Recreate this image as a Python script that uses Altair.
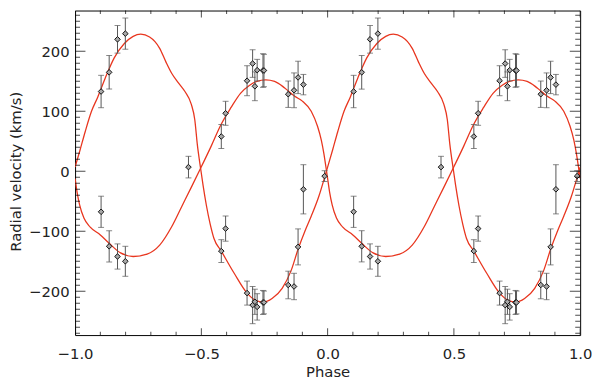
import altair as alt
import pandas as pd

# ---- model curves (one orbital cycle, phase 0..1) ----
CURVE_A_PHASE = [0.0, 0.02, 0.04, 0.065, 0.09, 0.103, 0.12, 0.155, 0.195, 0.23, 0.26,
                 0.295, 0.335, 0.36, 0.383, 0.41, 0.435, 0.46, 0.474, 0.484, 0.497,
                 0.507, 0.52, 0.535, 0.55, 0.579, 0.63, 0.681, 0.715, 0.745, 0.78,
                 0.82, 0.855, 0.883, 0.91, 0.935, 0.965, 0.993, 1.0]
CURVE_A_RV = [7, 36, 66, 100, 124, 138, 156, 189, 213, 225, 228.5,
              224, 205, 182, 163, 147, 133, 112, 86, 45, 5,
              -24, -57, -88, -112, -133, -170, -203, -215, -218, -212,
              -195, -166, -130, -100, -75, -42, -3, 7]

CURVE_B_PHASE = [0.0, 0.008, 0.018, 0.035, 0.06, 0.10, 0.135, 0.18, 0.23, 0.285,
                 0.335, 0.383, 0.422, 0.461, 0.497, 0.539, 0.578, 0.617, 0.655, 0.69,
                 0.72, 0.755, 0.79, 0.83, 0.87, 0.90, 0.935, 0.96, 0.975, 0.985,
                 0.993, 1.0]
CURVE_B_RV = [-12, -35, -56, -78, -93, -106, -120, -136, -142, -138,
              -123, -92, -59, -26, 5, 42, 78, 106, 130, 143,
              150, 152.5, 150, 139, 125, 117, 100, 75, 52, 30,
              8, -12]

# ---- measured radial velocities (phase 0..1) ----
OBS_PHASE = [0.103, 0.103, 0.135, 0.135, 0.168, 0.168, 0.199, 0.199, 0.449,
             0.579, 0.579, 0.596, 0.596, 0.681, 0.681, 0.703, 0.703, 0.712, 0.712,
             0.721, 0.721, 0.744, 0.744, 0.748, 0.748, 0.844, 0.844, 0.867, 0.867,
             0.883, 0.883, 0.904, 0.904, 0.988]
OBS_RV = [133, -67.5, 165, -125, 220, -142, 229.5, -150, 7,
          58, -133, 96.7, -95.5, 151, -203, 179.6, -223, 141.7, -217.5,
          168.6, -226, 168, -218.6, 168, -218.6, 128.5, -189.5, 135, -192,
          156.5, -126, 144.5, -30, -8]
OBS_ERR = [27, 26, 28, 26, 23, 21, 26, 25, 18,
           20, 19, 20, 21, 25, 20, 23, 31, 24, 21,
           18, 22, 28, 20, 27, 19, 22, 23, 29, 22,
           27, 30, 17, 41, 9]

# ---- axes ----
X_RANGE = [-1.0, 1.0]
Y_RANGE = [-273, 268]
X_MAJOR = [-1.0, -0.5, 0.0, 0.5, 1.0]
X_MINOR = [-0.9, -0.8, -0.7, -0.6, -0.4, -0.3, -0.2, -0.1,
           0.1, 0.2, 0.3, 0.4, 0.6, 0.7, 0.8, 0.9]
Y_MAJOR = [-200, -100, 0, 100, 200]
Y_MINOR = [v for v in range(-270, 270, 10) if v % 100 != 0]

FONT = "DejaVu Sans"
RED = "#e8361f"
INK = "#222222"

# two cycles: phase-1 and phase (drop duplicate junction point in first cycle)
def curve_rows(phases, values, name):
    rows = []
    for p, v in zip(phases, values):
        if p < 1.0:
            rows.append({"phase": p - 1.0, "rv": v, "series": name})
    for p, v in zip(phases, values):
        rows.append({"phase": p, "rv": v, "series": name})
    return rows

curves = pd.DataFrame(curve_rows(CURVE_A_PHASE, CURVE_A_RV, "A")
                      + curve_rows(CURVE_B_PHASE, CURVE_B_RV, "B"))

obs_rows = []
for shift in (-1.0, 0.0):
    for p, v, e in zip(OBS_PHASE, OBS_RV, OBS_ERR):
        obs_rows.append({"phase": p + shift, "rv": v, "lo": v - e, "hi": v + e})
obs = pd.DataFrame(obs_rows)

xscale = alt.Scale(domain=X_RANGE, nice=False, zero=False)
yscale = alt.Scale(domain=Y_RANGE, nice=False, zero=False)
xaxis = alt.Axis(values=X_MAJOR, format=".1f", title="Phase", labelFlush=False,
                 labelPadding=12, titleY=42, titleBaseline="alphabetic")
yaxis = alt.Axis(values=Y_MAJOR, format="d", title="Radial velocity (km/s)",
                 labelPadding=6, titleX=-55, titleY=163, titleAngle=270,
                 titleBaseline="alphabetic")


def X(field):
    return alt.X(field, type="quantitative", scale=xscale, axis=xaxis)


def Y(field):
    return alt.Y(field, type="quantitative", scale=yscale, axis=yaxis)


def XD(v):
    return alt.XDatum(v, type="quantitative", scale=xscale, axis=xaxis)


def YD(v):
    return alt.YDatum(v, type="quantitative", scale=yscale, axis=yaxis)


lines = alt.Chart(curves).mark_line(
    interpolate="monotone", color=RED, strokeWidth=1.3, clip=True
).encode(x=X("phase"), y=Y("rv"), detail="series:N", order="phase:Q")

bars = alt.Chart(obs).mark_rule(color="#555555", strokeWidth=1).encode(
    x=X("phase"), y=Y("lo"), y2="hi:Q")
cap_lo = alt.Chart(obs).mark_tick(orient="horizontal", size=6, thickness=1,
                                  color="#555555").encode(x=X("phase"), y=Y("lo"))
cap_hi = alt.Chart(obs).mark_tick(orient="horizontal", size=6, thickness=1,
                                  color="#555555").encode(x=X("phase"), y=Y("hi"))
points = alt.Chart(obs).mark_point(
    shape="diamond", filled=True, fill="#a8a8a8", stroke="#111111",
    strokeWidth=1, size=32, opacity=1
).encode(x=X("phase"), y=Y("rv"))

xt_major = pd.DataFrame({"t": X_MAJOR})
xt_minor = pd.DataFrame({"t": X_MINOR})
yt_major = pd.DataFrame({"t": Y_MAJOR})
yt_minor = pd.DataFrame({"t": Y_MINOR})


def xticks(df, size, at):
    return alt.Chart(df).mark_tick(orient="vertical", size=size, thickness=1,
                                   color="black", clip=True).encode(x=X("t"), y=YD(at))


def yticks(df, size, at):
    return alt.Chart(df).mark_tick(orient="horizontal", size=size, thickness=1,
                                   color="black", clip=True).encode(y=Y("t"), x=XD(at))


ticks = [
    xticks(xt_major, 14, Y_RANGE[0]), xticks(xt_minor, 7, Y_RANGE[0]),
    xticks(xt_major, 14, Y_RANGE[1]), xticks(xt_minor, 7, Y_RANGE[1]),
    yticks(yt_major, 21, X_RANGE[0]), yticks(yt_minor, 10, X_RANGE[0]),
    yticks(yt_major, 21, X_RANGE[1]), yticks(yt_minor, 10, X_RANGE[1]),
]

chart = alt.layer(lines, bars, cap_lo, cap_hi, points, *ticks).properties(
    width=512, height=329,
    padding={"left": 68, "top": 0, "right": 12, "bottom": 45},
    autosize=alt.AutoSizeParams(type="none"),
).configure_view(
    stroke="black", strokeWidth=1
).configure_axis(
    domain=False, ticks=False, tickSize=0, grid=False,
    labelFont=FONT, labelFontSize=15, labelColor=INK,
    titleFont=FONT, titleFontSize=15, titleFontWeight="normal", titleColor=INK,
)

chart.save("out.html", embed_options={"renderer": "svg", "actions": False})
